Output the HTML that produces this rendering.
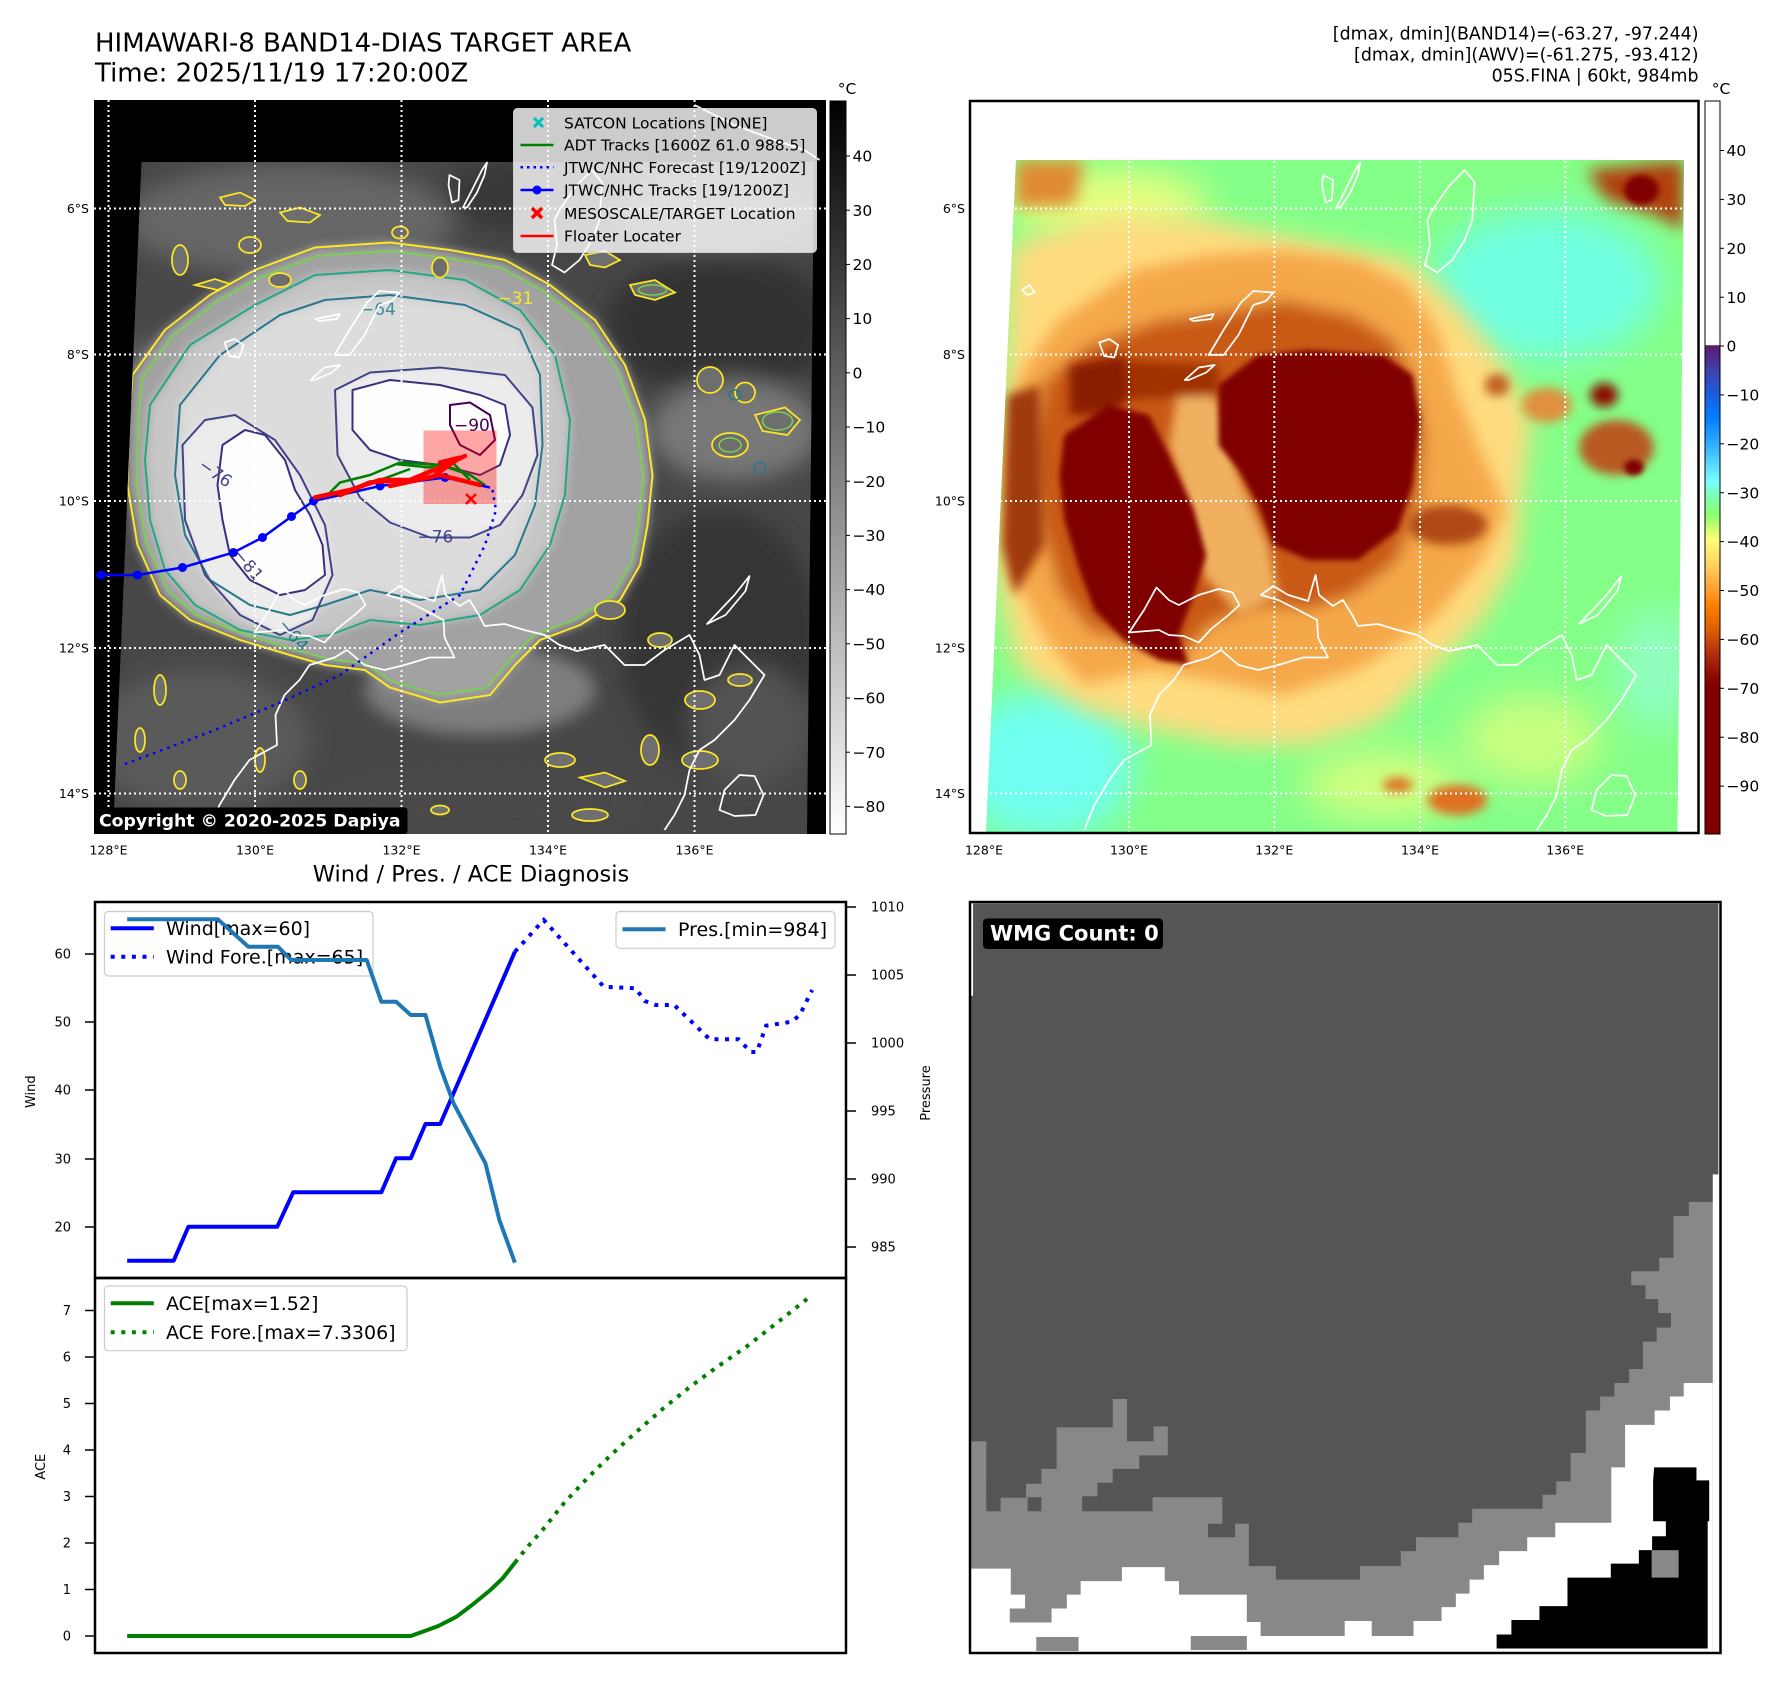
<!DOCTYPE html>
<html><head><meta charset="utf-8">
<style>
html,body{margin:0;padding:0;background:#fff;}
svg{display:block;}
text{font-family:"DejaVu Sans","Liberation Sans",sans-serif;}
</style></head><body>
<svg xmlns="http://www.w3.org/2000/svg" width="1788" height="1690" viewBox="0 0 1788 1690">
<defs>
 <filter id="bz6" x="-30%" y="-30%" width="160%" height="160%"><feGaussianBlur stdDeviation="6"/></filter>
 <filter id="bz10" x="-30%" y="-30%" width="160%" height="160%"><feGaussianBlur stdDeviation="10"/></filter>
 <filter id="bz16" x="-30%" y="-30%" width="160%" height="160%"><feGaussianBlur stdDeviation="16"/></filter>
 <filter id="bz24" x="-40%" y="-40%" width="180%" height="180%"><feGaussianBlur stdDeviation="24"/></filter>
 <filter id="bz36" x="-40%" y="-40%" width="180%" height="180%"><feGaussianBlur stdDeviation="36"/></filter>
 <clipPath id="clipLax"><rect x="94" y="100" width="732" height="734"/></clipPath>
 <clipPath id="clipLd"><polygon points="141.5,162 814,162 807,834 113,834"/></clipPath>
 <clipPath id="clipRd"><polygon points="1016,160 1684,160 1677.5,833 986,833"/></clipPath>
 <clipPath id="clipRax"><rect x="970" y="101" width="728.5" height="732"/></clipPath>
 <linearGradient id="g1" x1="0" y1="0" x2="0" y2="1">
  <stop offset="0" stop-color="#000"/><stop offset="1" stop-color="#fff"/>
 </linearGradient>
 <linearGradient id="g2" x1="0" y1="0" x2="0" y2="1">
  <stop offset="0" stop-color="#ffffff"/>
  <stop offset="0.333" stop-color="#ffffff"/>
  <stop offset="0.3334" stop-color="#5e1870"/>
  <stop offset="0.3667" stop-color="#4040a8"/>
  <stop offset="0.4" stop-color="#1a5ee0"/>
  <stop offset="0.4333" stop-color="#0080ff"/>
  <stop offset="0.4667" stop-color="#30aaff"/>
  <stop offset="0.5" stop-color="#60e0ff"/>
  <stop offset="0.52" stop-color="#78ffff"/>
  <stop offset="0.5467" stop-color="#80ff98"/>
  <stop offset="0.5667" stop-color="#90ff70"/>
  <stop offset="0.5867" stop-color="#d8ff70"/>
  <stop offset="0.6" stop-color="#ffff78"/>
  <stop offset="0.6333" stop-color="#ffd060"/>
  <stop offset="0.6667" stop-color="#ffa030"/>
  <stop offset="0.6867" stop-color="#ff8000"/>
  <stop offset="0.72" stop-color="#e06000"/>
  <stop offset="0.7533" stop-color="#b03010"/>
  <stop offset="0.7867" stop-color="#8c0800"/>
  <stop offset="0.8" stop-color="#800000"/>
  <stop offset="1" stop-color="#800000"/>
 </linearGradient>
</defs>

<!-- ================= TITLES ================= -->
<text x="95" y="51.5" font-size="26" fill="#000">HIMAWARI-8 BAND14-DIAS TARGET AREA</text>
<text x="95" y="81.5" font-size="26" fill="#000">Time: 2025/11/19 17:20:00Z</text>
<text x="1698.5" y="39.5" font-size="17.4" text-anchor="end" fill="#000">[dmax, dmin](BAND14)=(-63.27, -97.244)</text>
<text x="1698.5" y="60.5" font-size="17.4" text-anchor="end" fill="#000">[dmax, dmin](AWV)=(-61.275, -93.412)</text>
<text x="1698.5" y="81.5" font-size="17.4" text-anchor="end" fill="#000">05S.FINA | 60kt, 984mb</text>

<!-- ================= LEFT MAP ================= -->
<rect x="94" y="100" width="732" height="734" fill="#000"/>
<g clip-path="url(#clipLd)">
 <g transform="translate(90,95) scale(0.5)">
  <rect x="0" y="100" width="1500" height="1420" fill="#474747"/>
  <g filter="url(#bz24)">
   <ellipse cx="400" cy="250" rx="330" ry="110" fill="#666"/>
   <ellipse cx="940" cy="200" rx="240" ry="80" fill="#383838"/>
   <ellipse cx="1250" cy="230" rx="200" ry="90" fill="#5a5a5a"/>
   <ellipse cx="1260" cy="460" rx="230" ry="140" fill="#323232"/>
   <ellipse cx="1290" cy="670" rx="170" ry="100" fill="#787878"/>
   <ellipse cx="1260" cy="1090" rx="200" ry="260" fill="#363636"/>
   <ellipse cx="1320" cy="1260" rx="120" ry="120" fill="#525252"/>
   <ellipse cx="220" cy="1290" rx="220" ry="140" fill="#5a5a5a"/>
   <ellipse cx="780" cy="1420" rx="320" ry="70" fill="#4a4a4a"/>
   <ellipse cx="120" cy="650" rx="80" ry="160" fill="#666"/>
  </g>
  <g filter="url(#bz16)">
   <ellipse cx="780" cy="1190" rx="230" ry="90" fill="#7e7e7e"/>
  </g>
  <g filter="url(#bz10)">
   <polygon fill="#a2a2a2" points="85,560 150,470 240,400 330,350 450,305 600,295 720,310 830,330 920,380 1010,450 1070,540 1110,650 1125,760 1115,860 1100,940 1060,1010 980,1060 900,1090 850,1140 800,1200 700,1215 600,1185 550,1150 470,1140 400,1120 300,1090 200,1050 140,1000 95,900 75,780 78,650"/>
   <polygon fill="#c6c6c6" points="120,620 200,500 330,420 450,360 600,350 750,370 860,430 930,520 960,650 950,800 920,900 860,990 780,1040 660,1060 560,1050 480,1080 400,1090 300,1070 210,1020 150,950 120,850 110,730"/>
   <polygon fill="#dcdcdc" points="180,620 260,520 380,440 470,410 600,400 750,420 860,470 900,560 905,700 890,820 850,920 780,990 660,1010 560,990 470,1020 400,1040 320,1020 240,970 190,880 170,760"/>
  </g>
  <g filter="url(#bz6)">
   <polygon fill="#ececec" points="185,700 230,650 290,640 370,690 420,760 470,860 485,960 445,1050 380,1080 300,1040 230,960 190,850"/>
   <polygon fill="#ececec" points="490,590 560,555 700,545 830,560 885,625 895,720 865,800 820,860 760,885 680,885 600,855 540,805 495,720"/>
  </g>
  <polygon fill="#fdfdfd" points="265,700 310,670 350,680 390,730 410,790 440,840 465,900 470,960 430,990 380,1000 320,970 280,920 265,850 255,780"/>
  <polygon fill="#fdfdfd" points="525,590 600,570 700,580 780,600 830,620 840,680 820,740 780,760 700,740 620,730 560,710 525,670"/>
  <!-- contours -->
  <g fill="none" stroke-width="4" stroke-linejoin="round">
   <polygon stroke="#fde725" points="85,560 150,470 240,400 330,350 450,305 600,295 720,310 830,330 920,380 1010,450 1070,540 1110,650 1125,760 1115,860 1100,940 1060,1010 980,1060 900,1090 850,1140 800,1200 700,1215 600,1185 550,1150 470,1140 400,1120 300,1090 200,1050 140,1000 95,900 75,780 78,650"/>
   <polygon stroke="#7ad151" transform="translate(600,780) scale(0.965) translate(-600,-780)" points="85,560 150,470 240,400 330,350 450,305 600,295 720,310 830,330 920,380 1010,450 1070,540 1110,650 1125,760 1115,860 1100,940 1060,1010 980,1060 900,1090 850,1140 800,1200 700,1215 600,1185 550,1150 470,1140 400,1120 300,1090 200,1050 140,1000 95,900 75,780 78,650"/>
   <polygon stroke="#22a884" points="120,620 200,500 330,420 450,360 600,350 750,370 860,430 930,520 960,650 950,800 920,900 860,990 780,1040 660,1060 560,1050 480,1080 400,1090 300,1070 210,1020 150,950 120,850 110,730"/>
   <polygon stroke="#2a788e" points="180,620 260,520 380,440 470,410 600,400 750,420 860,470 900,560 905,700 890,820 850,920 780,990 660,1010 560,990 470,1020 400,1040 320,1020 240,970 190,880 170,760"/>
   <polygon stroke="#414487" points="185,700 230,650 290,640 370,690 420,760 470,860 485,960 445,1050 380,1080 300,1040 230,960 190,850"/>
   <polygon stroke="#414487" points="490,590 560,555 700,545 830,560 885,625 895,720 865,800 820,860 760,885 680,885 600,855 540,805 495,720"/>
   <polygon stroke="#3b2f7e" points="265,700 310,670 350,680 390,730 410,790 440,840 465,900 470,960 430,990 380,1000 320,970 280,920 265,850 255,780"/>
   <polygon stroke="#3b2f7e" points="525,590 600,570 700,580 780,600 830,620 840,680 820,740 780,760 700,740 620,730 560,710 525,670"/>
   <path stroke="#440154" d="M720,620 L760,615 L800,640 L810,690 L780,720 L740,700 L720,660 Z"/>
  </g>
  <!-- scattered small contour loops -->
  <g fill="#6e6e6e" stroke="#fde725" stroke-width="3.5">
   <path d="M260,205 L300,195 L330,210 L310,222 L270,220 Z"/>
   <path d="M380,235 L420,225 L460,240 L440,255 L395,252 Z"/>
   <ellipse cx="320" cy="300" rx="22" ry="16"/>
   <ellipse cx="180" cy="330" rx="16" ry="30"/>
   <path d="M210,380 L250,368 L280,378 L255,390 Z"/>
   <ellipse cx="380" cy="370" rx="22" ry="14"/>
   <ellipse cx="620" cy="275" rx="16" ry="12"/>
   <ellipse cx="700" cy="345" rx="16" ry="20"/>
   <path d="M990,320 L1030,312 L1060,330 L1030,345 L1000,340 Z"/>
   <path d="M1080,380 L1130,370 L1170,395 L1130,410 L1090,400 Z"/>
   <ellipse cx="1240" cy="570" rx="26" ry="26"/>
   <ellipse cx="1310" cy="595" rx="20" ry="20"/>
   <path d="M1330,640 L1390,625 L1420,650 L1395,680 L1345,672 Z"/>
   <ellipse cx="1280" cy="700" rx="36" ry="24"/>
   <ellipse cx="1040" cy="1030" rx="30" ry="18"/>
   <ellipse cx="1140" cy="1090" rx="24" ry="14"/>
   <ellipse cx="1220" cy="1210" rx="30" ry="18"/>
   <ellipse cx="1300" cy="1170" rx="24" ry="12"/>
   <ellipse cx="1220" cy="1330" rx="36" ry="18"/>
   <path d="M980,1365 L1030,1355 L1070,1372 L1030,1385 Z"/>
   <ellipse cx="940" cy="1330" rx="30" ry="14"/>
   <ellipse cx="1120" cy="1310" rx="18" ry="30"/>
   <ellipse cx="140" cy="1190" rx="12" ry="30"/>
   <ellipse cx="100" cy="1290" rx="10" ry="24"/>
   <ellipse cx="180" cy="1370" rx="12" ry="18"/>
   <ellipse cx="340" cy="1330" rx="10" ry="24"/>
   <ellipse cx="420" cy="1370" rx="12" ry="18"/>
   <ellipse cx="1000" cy="1440" rx="36" ry="12"/>
   <ellipse cx="700" cy="1430" rx="18" ry="9"/>
  </g>
  <g fill="none" stroke="#7ad151" stroke-width="3">
   <ellipse cx="1375" cy="652" rx="30" ry="18"/>
   <ellipse cx="1280" cy="700" rx="22" ry="14"/>
   <ellipse cx="1125" cy="390" rx="28" ry="10"/>
  </g>
  <g fill="none" stroke="#2a788e" stroke-width="3">
   <ellipse cx="1290" cy="600" rx="12" ry="10"/>
   <ellipse cx="1340" cy="745" rx="12" ry="10"/>
  </g>
  <g font-size="34">
   <text x="540" y="440" fill="#3b8ea0">−64</text>
   <text x="815" y="418" fill="#fde725">−31</text>
   <text x="655" y="895" fill="#414487">−76</text>
   <text x="728" y="672" fill="#440154">−90</text>
   <text x="215" y="745" fill="#414487" transform="rotate(35 215 745)">−76</text>
   <text x="285" y="920" fill="#414487" transform="rotate(50 285 920)">−81</text>
   <text x="375" y="1060" fill="#2a788e" transform="rotate(50 375 1060)">−64</text>
  </g>
 </g>
</g>
<!-- left coastlines -->
<g clip-path="url(#clipLax)">
 <g transform="translate(84.5,95) scale(0.5)" fill="none" stroke="#fff" stroke-width="3.5" stroke-linejoin="round">
  <path d="M730,160 L750,170 L748,210 L735,215 L728,180 Z"/>
  <path d="M757,225 L775,190 L795,150 L805,135 L800,160 L785,195 L765,225 Z"/>
  <path d="M950,230 L985,180 L1015,150 L1035,175 L1030,250 L1015,290 L990,330 L960,355 L935,340 L945,300 L940,250 Z"/>
  <path d="M500,520 L530,470 L565,415 L590,392 L630,395 L615,412 L590,420 L560,480 L530,520 Z"/>
  <path d="M462,448 L510,438 L505,448 L470,452 Z"/>
  <path d="M452,570 L480,545 L512,540 L495,555 L460,570 Z"/>
  <path d="M280,495 L300,488 L318,500 L310,525 L290,522 Z"/>
  <path d="M340,1075 L370,1030 L395,985 L420,1010 L440,1020 L480,1000 L520,988 L548,995 L562,1020 L540,1040 L505,1068 L480,1095 L450,1082 L420,1080 L400,1070 Z"/>
  <path d="M450,1140 L500,1125 L525,1110 L560,1140 L600,1150 L640,1140 L690,1125 L740,1125 L720,1085 L718,1050 L680,1030 L640,1010 L605,1000 L630,982 L660,1000 L700,1012 L715,960 L722,1000 L750,1022 L770,1010 L790,1042 L800,1062 L840,1058 L880,1070 L920,1080 L950,1100 L985,1112 L1040,1100 L1080,1140 L1120,1140 L1160,1110 L1210,1080 L1230,1120 L1240,1170 L1270,1160 L1300,1100 L1330,1130 L1360,1160 L1330,1210 L1300,1250 L1260,1290 L1230,1310 L1210,1350 L1200,1400 L1180,1440 L1160,1470"/>
  <path d="M450,1140 L430,1170 L400,1200 L382,1240 L385,1300 L330,1330 L300,1370 L270,1420 L250,1470"/>
  <path d="M1245,1058 L1300,1000 L1330,962 L1322,992 L1282,1040 Z"/>
  <path d="M1270,1430 L1280,1390 L1310,1360 L1340,1362 L1358,1400 L1342,1440 L1300,1442 Z"/>
  <path d="M1220,20 L1300,60 L1380,90 L1440,110 L1470,130"/>
 </g>
</g>
<!-- left gridlines -->
<g stroke="#fff" stroke-width="2" stroke-dasharray="2 3" fill="none">
 <line x1="108.5" y1="100" x2="108.5" y2="834"/>
 <line x1="255" y1="100" x2="255" y2="834"/>
 <line x1="401.5" y1="100" x2="401.5" y2="834"/>
 <line x1="548" y1="100" x2="548" y2="834"/>
 <line x1="694.5" y1="100" x2="694.5" y2="834"/>
 <line x1="94" y1="208.5" x2="826" y2="208.5"/>
 <line x1="94" y1="354.5" x2="826" y2="354.5"/>
 <line x1="94" y1="501" x2="826" y2="501"/>
 <line x1="94" y1="648" x2="826" y2="648"/>
 <line x1="94" y1="793.5" x2="826" y2="793.5"/>
</g>
<!-- tracks -->
<g clip-path="url(#clipLax)">
 <g transform="translate(90,95) scale(0.5)">
  <rect x="667" y="671" width="146" height="147" fill="#ff0000" fill-opacity="0.35"/>
  <polyline fill="none" stroke="#0000ff" stroke-width="5" stroke-dasharray="5 10" points="805,790 812,830 790,900 740,1000 620,1075 500,1160 380,1215 250,1270 70,1338"/>
  <g fill="none" stroke="#008000" stroke-width="5">
   <polyline points="470,805 500,775 560,760 620,735 700,740 760,760 790,780"/>
   <polyline points="610,738 680,745 720,730 760,770"/>
   <polyline points="520,790 580,770 640,748"/>
  </g>
  <polyline fill="none" stroke="#0000ff" stroke-width="5" points="22,960 95,960 185,945 287,915 345,885 403,843 447,812 580,782 710,765 800,785"/>
  <g fill="#0000ff">
   <circle cx="22" cy="960" r="9"/><circle cx="95" cy="960" r="9"/><circle cx="185" cy="945" r="9"/>
   <circle cx="287" cy="915" r="9"/><circle cx="345" cy="885" r="9"/><circle cx="403" cy="843" r="9"/>
   <circle cx="447" cy="812" r="9"/><circle cx="580" cy="782" r="9"/><circle cx="710" cy="765" r="9"/>
  </g>
  <g fill="none" stroke="#ff0000" stroke-width="9" stroke-linecap="round">
   <polyline points="450,805 520,790 580,770 640,770 700,745 750,722"/>
   <polyline points="500,800 560,775 620,770"/>
   <polyline points="600,782 700,760 780,780"/>
   <polyline points="690,760 740,725 700,735"/>
  </g>
  <g stroke="#ff0000" stroke-width="5">
   <line x1="752" y1="798" x2="772" y2="818"/><line x1="772" y1="798" x2="752" y2="818"/>
  </g>
 </g>
</g>
<!-- legend -->
<rect x="513.5" y="108.5" width="303" height="144" rx="4" fill="#fff" fill-opacity="0.8" stroke="#cccccc" stroke-width="1"/>
<g stroke="#00bfbf" stroke-width="3"><line x1="534" y1="118" x2="543" y2="127"/><line x1="543" y1="118" x2="534" y2="127"/></g>
<line x1="520.5" y1="145" x2="553.5" y2="145" stroke="#008000" stroke-width="2.5"/>
<line x1="520.5" y1="167.3" x2="553.5" y2="167.3" stroke="#0000ff" stroke-width="2.5" stroke-dasharray="2.5 4"/>
<line x1="520.5" y1="190" x2="553.5" y2="190" stroke="#0000ff" stroke-width="2.5"/>
<circle cx="537" cy="190" r="4.5" fill="#0000ff"/>
<g stroke="#ff0000" stroke-width="3.5"><line x1="532" y1="208" x2="542" y2="218"/><line x1="542" y1="208" x2="532" y2="218"/></g>
<line x1="520.5" y1="236" x2="553.5" y2="236" stroke="#ff0000" stroke-width="2.5"/>
<g font-size="15.5" fill="#000">
 <text x="564" y="128.3">SATCON Locations [NONE]</text>
 <text x="564" y="150.6">ADT Tracks [1600Z 61.0 988.5]</text>
 <text x="564" y="172.9">JTWC/NHC Forecast [19/1200Z]</text>
 <text x="564" y="195.6">JTWC/NHC Tracks [19/1200Z]</text>
 <text x="564" y="218.9">MESOSCALE/TARGET Location</text>
 <text x="564" y="241.6">Floater Locater</text>
</g>
<rect x="94" y="807.5" width="313.5" height="26.5" rx="3" fill="#000"/>
<text x="99" y="826.5" font-size="17.3" font-weight="bold" fill="#fff">Copyright © 2020-2025 Dapiya</text>
<g font-size="12.5" fill="#000">
 <text x="89" y="213" text-anchor="end">6°S</text>
 <text x="89" y="359" text-anchor="end">8°S</text>
 <text x="89" y="505.5" text-anchor="end">10°S</text>
 <text x="89" y="652.5" text-anchor="end">12°S</text>
 <text x="89" y="798" text-anchor="end">14°S</text>
 <text x="108.5" y="854.5" text-anchor="middle">128°E</text>
 <text x="255" y="854.5" text-anchor="middle">130°E</text>
 <text x="401.5" y="854.5" text-anchor="middle">132°E</text>
 <text x="548" y="854.5" text-anchor="middle">134°E</text>
 <text x="694.5" y="854.5" text-anchor="middle">136°E</text>
</g>
<!-- colorbar 1 -->
<rect x="830" y="101" width="16" height="733" fill="url(#g1)" stroke="#000" stroke-width="1"/>
<text x="847" y="94" font-size="15.5" text-anchor="middle">°C</text>
<g stroke="#000" stroke-width="1">
 <line x1="846" y1="156" x2="850" y2="156"/><line x1="846" y1="210.2" x2="850" y2="210.2"/>
 <line x1="846" y1="264.4" x2="850" y2="264.4"/><line x1="846" y1="318.6" x2="850" y2="318.6"/>
 <line x1="846" y1="372.8" x2="850" y2="372.8"/><line x1="846" y1="427" x2="850" y2="427"/>
 <line x1="846" y1="481.2" x2="850" y2="481.2"/><line x1="846" y1="535.4" x2="850" y2="535.4"/>
 <line x1="846" y1="589.6" x2="850" y2="589.6"/><line x1="846" y1="643.8" x2="850" y2="643.8"/>
 <line x1="846" y1="698" x2="850" y2="698"/><line x1="846" y1="752.2" x2="850" y2="752.2"/>
 <line x1="846" y1="806.4" x2="850" y2="806.4"/>
</g>
<g font-size="15.5" fill="#000">
 <text x="852.5" y="161.6">40</text><text x="852.5" y="215.8">30</text><text x="852.5" y="270">20</text>
 <text x="852.5" y="324.2">10</text><text x="852.5" y="378.4">0</text><text x="852.5" y="432.6">−10</text>
 <text x="852.5" y="486.8">−20</text><text x="852.5" y="541">−30</text><text x="852.5" y="595.2">−40</text>
 <text x="852.5" y="649.4">−50</text><text x="852.5" y="703.6">−60</text><text x="852.5" y="757.8">−70</text>
 <text x="852.5" y="812">−80</text>
</g>

<!-- ================= RIGHT MAP ================= -->
<rect x="970" y="101" width="728.5" height="732" fill="#fff"/>
<g clip-path="url(#clipRd)">
 <g transform="translate(960,95) scale(0.4973,0.5)">
  <rect x="0" y="100" width="1500" height="1420" fill="#84ff88"/>
  <g filter="url(#bz36)">
   <ellipse cx="1180" cy="380" rx="230" ry="150" fill="#70ffe0"/>
   <ellipse cx="170" cy="1340" rx="180" ry="150" fill="#70fff0"/>
   <ellipse cx="1400" cy="1150" rx="80" ry="120" fill="#90ffc0"/>
   <ellipse cx="1150" cy="1290" rx="140" ry="90" fill="#c8ff80"/>
   <ellipse cx="850" cy="1380" rx="160" ry="70" fill="#d0ff80"/>
   <ellipse cx="300" cy="220" rx="200" ry="70" fill="#e8ff80"/>
  </g>
  <g filter="url(#bz24)">
   <polygon fill="#ffdc80" points="100,300 300,240 500,250 700,290 900,330 1000,420 1080,520 1150,640 1130,800 1120,930 1050,1050 950,1150 850,1250 700,1300 550,1300 400,1270 250,1230 120,1150 80,1000 70,800 90,600"/>
  </g>
  <g filter="url(#bz16)">
   <polygon fill="#f5a848" points="120,560 200,450 350,350 500,320 650,310 800,330 900,380 960,470 1000,600 1050,720 1100,830 1050,930 950,1050 800,1150 650,1200 500,1170 380,1150 250,1180 180,1100 100,950 90,750"/>
   <polygon fill="#c85a18" points="170,570 260,500 400,450 550,430 650,410 790,440 870,490 910,560 935,680 925,810 880,930 790,1000 700,1030 600,1020 500,1060 450,1120 360,1100 260,1070 200,990 160,850 145,700"/>
   <polygon fill="#e08a30" points="112,130 250,130 230,220 112,225"/>
   <polygon fill="#b04010" points="1260,150 1455,130 1455,270 1400,240 1300,210"/>
  </g>
  <g filter="url(#bz10)">
   <polygon fill="#f0b060" points="440,580 520,610 560,760 620,900 640,1000 560,1040 490,960 460,820 420,700"/>
   <polygon fill="#8a1a00" points="220,540 330,520 350,600 300,640 220,640"/>
   <polygon fill="#a03000" points="330,530 520,540 520,600 340,610"/>
   <polygon fill="#a03a08" points="95,600 160,580 170,900 110,1000 85,900"/>
   <ellipse cx="1295" cy="600" rx="28" ry="24" fill="#8a1000"/>
   <ellipse cx="1320" cy="705" rx="75" ry="55" fill="#b85a20"/>
   <ellipse cx="1080" cy="580" rx="25" ry="22" fill="#c06020"/>
   <ellipse cx="1180" cy="620" rx="50" ry="35" fill="#e09040"/>
   <ellipse cx="1000" cy="1410" rx="60" ry="30" fill="#e07020"/>
   <ellipse cx="880" cy="1380" rx="30" ry="15" fill="#e07020"/>
   <ellipse cx="980" cy="860" rx="80" ry="40" fill="#b04a18"/>
  </g>
  <g filter="url(#bz6)">
   <polygon fill="#800000" points="520,580 600,520 700,510 850,520 910,560 925,650 910,780 880,870 800,930 700,930 630,900 600,820 560,750 520,700"/>
   <polygon fill="#800000" points="210,680 300,620 380,640 420,720 470,830 495,920 470,1000 440,1080 460,1140 400,1130 330,1090 270,1030 240,950 210,850 200,760"/>
   <ellipse cx="1370" cy="190" rx="35" ry="30" fill="#800000"/>
   <ellipse cx="1355" cy="745" rx="20" ry="16" fill="#800000"/>
  </g>
 </g>
</g>
<!-- right coastlines -->
<g clip-path="url(#clipRax)">
 <g transform="translate(960,95) scale(0.4973,0.5)" fill="none" stroke="#fff" stroke-width="3.5" stroke-linejoin="round">
  <path d="M730,160 L750,170 L748,210 L735,215 L728,180 Z"/>
  <path d="M757,225 L775,190 L795,150 L805,135 L800,160 L785,195 L765,225 Z"/>
  <path d="M950,230 L985,180 L1015,150 L1035,175 L1030,250 L1015,290 L990,330 L960,355 L935,340 L945,300 L940,250 Z"/>
  <path d="M500,520 L530,470 L565,415 L590,392 L630,395 L615,412 L590,420 L560,480 L530,520 Z"/>
  <path d="M462,448 L510,438 L505,448 L470,452 Z"/>
  <path d="M452,570 L480,545 L512,540 L495,555 L460,570 Z"/>
  <path d="M280,495 L300,488 L318,500 L310,525 L290,522 Z"/>
  <path d="M125,390 L140,380 L150,395 L135,400 Z"/>
  <path d="M340,1075 L370,1030 L395,985 L420,1010 L440,1020 L480,1000 L520,988 L548,995 L562,1020 L540,1040 L505,1068 L480,1095 L450,1082 L420,1080 L400,1070 Z"/>
  <path d="M450,1140 L500,1125 L525,1110 L560,1140 L600,1150 L640,1140 L690,1125 L740,1125 L720,1085 L718,1050 L680,1030 L640,1010 L605,1000 L630,982 L660,1000 L700,1012 L715,960 L722,1000 L750,1022 L770,1010 L790,1042 L800,1062 L840,1058 L880,1070 L920,1080 L950,1100 L985,1112 L1040,1100 L1080,1140 L1120,1140 L1160,1110 L1210,1080 L1230,1120 L1240,1170 L1270,1160 L1300,1100 L1330,1130 L1360,1160 L1330,1210 L1300,1250 L1260,1290 L1230,1310 L1210,1350 L1200,1400 L1180,1440 L1160,1470"/>
  <path d="M450,1140 L430,1170 L400,1200 L382,1240 L385,1300 L330,1330 L300,1370 L270,1420 L250,1470"/>
  <path d="M1245,1058 L1300,1000 L1330,962 L1322,992 L1282,1040 Z"/>
  <path d="M1270,1430 L1280,1390 L1310,1360 L1340,1362 L1358,1400 L1342,1440 L1300,1442 Z"/>
 </g>
</g>
<!-- right gridlines -->
<g stroke="#fff" stroke-width="2" stroke-dasharray="2 3" fill="none" clip-path="url(#clipRd)">
 <line x1="1129" y1="101" x2="1129" y2="833"/>
 <line x1="1274.3" y1="101" x2="1274.3" y2="833"/>
 <line x1="1420" y1="101" x2="1420" y2="833"/>
 <line x1="1565.2" y1="101" x2="1565.2" y2="833"/>
 <line x1="970" y1="208.5" x2="1698" y2="208.5"/>
 <line x1="970" y1="354.5" x2="1698" y2="354.5"/>
 <line x1="970" y1="501" x2="1698" y2="501"/>
 <line x1="970" y1="648" x2="1698" y2="648"/>
 <line x1="970" y1="793.5" x2="1698" y2="793.5"/>
</g>
<rect x="970" y="101" width="728.5" height="732" fill="none" stroke="#000" stroke-width="2.5"/>
<g font-size="12.5" fill="#000">
 <text x="965" y="213" text-anchor="end">6°S</text>
 <text x="965" y="359" text-anchor="end">8°S</text>
 <text x="965" y="505.5" text-anchor="end">10°S</text>
 <text x="965" y="652.5" text-anchor="end">12°S</text>
 <text x="965" y="798" text-anchor="end">14°S</text>
 <text x="984" y="854.5" text-anchor="middle">128°E</text>
 <text x="1129" y="854.5" text-anchor="middle">130°E</text>
 <text x="1274.3" y="854.5" text-anchor="middle">132°E</text>
 <text x="1420" y="854.5" text-anchor="middle">134°E</text>
 <text x="1565.2" y="854.5" text-anchor="middle">136°E</text>
</g>
<!-- colorbar 2 -->
<rect x="1705" y="101" width="15" height="733" fill="url(#g2)" stroke="#000" stroke-width="1"/>
<text x="1721" y="94" font-size="15.5" text-anchor="middle">°C</text>
<g stroke="#000" stroke-width="1">
 <line x1="1720" y1="150.5" x2="1724" y2="150.5"/><line x1="1720" y1="199.4" x2="1724" y2="199.4"/>
 <line x1="1720" y1="248.3" x2="1724" y2="248.3"/><line x1="1720" y1="297.2" x2="1724" y2="297.2"/>
 <line x1="1720" y1="346" x2="1724" y2="346"/><line x1="1720" y1="394.9" x2="1724" y2="394.9"/>
 <line x1="1720" y1="443.8" x2="1724" y2="443.8"/><line x1="1720" y1="492.7" x2="1724" y2="492.7"/>
 <line x1="1720" y1="541.6" x2="1724" y2="541.6"/><line x1="1720" y1="590.5" x2="1724" y2="590.5"/>
 <line x1="1720" y1="639.4" x2="1724" y2="639.4"/><line x1="1720" y1="688.3" x2="1724" y2="688.3"/>
 <line x1="1720" y1="737.2" x2="1724" y2="737.2"/><line x1="1720" y1="786.1" x2="1724" y2="786.1"/>
</g>
<g font-size="15.5" fill="#000">
 <text x="1726.5" y="156.1">40</text><text x="1726.5" y="205">30</text><text x="1726.5" y="253.9">20</text>
 <text x="1726.5" y="302.8">10</text><text x="1726.5" y="351.6">0</text><text x="1726.5" y="400.5">−10</text>
 <text x="1726.5" y="449.4">−20</text><text x="1726.5" y="498.3">−30</text><text x="1726.5" y="547.2">−40</text>
 <text x="1726.5" y="596.1">−50</text><text x="1726.5" y="645">−60</text><text x="1726.5" y="693.9">−70</text>
 <text x="1726.5" y="742.8">−80</text><text x="1726.5" y="791.7">−90</text>
</g>

<!-- ================= WIND / PRES PANEL ================= -->
<text x="471" y="881.5" font-size="22.5" text-anchor="middle" fill="#000">Wind / Pres. / ACE Diagnosis</text>
<rect x="95" y="902" width="751" height="376" fill="#fff"/>
<g transform="translate(95,0) scale(0.996,1) translate(-95,0)">
<polyline fill="none" stroke="#0000ff" stroke-width="4" stroke-linejoin="round" points="127.3,1260.7 174,1260.7 188.8,1226.7 278,1226.7 294,1192.3 382.5,1192.3 397.3,1158.3 412,1158.3 426.8,1124 441.6,1124 516.6,951.7"/>
<polyline fill="none" stroke="#0000ff" stroke-width="4" stroke-dasharray="4 6.6" points="516.6,951.7 545.5,920 605.8,986.7 637.8,988.3 647,1001 658,1005 676.5,1005 712.2,1039.3 741.1,1039.3 753.4,1052 759.5,1052 768.8,1025.7 794.6,1021.7 802.6,1015 815,990"/>
</g>
<rect x="104.5" y="911.5" width="268.5" height="64.5" rx="4" fill="#fff" fill-opacity="0.8" stroke="#cccccc" stroke-width="1.2"/>
<line x1="110.7" y1="928.3" x2="153.8" y2="928.3" stroke="#0000ff" stroke-width="4"/>
<line x1="110.7" y1="956.7" x2="153.8" y2="956.7" stroke="#0000ff" stroke-width="4" stroke-dasharray="4 6.6"/>
<text x="166" y="935" font-size="19" fill="#000">Wind[max=60]</text>
<text x="166" y="963.5" font-size="19" fill="#000">Wind Fore.[max=65]</text>
<g transform="translate(95,0) scale(0.996,1) translate(-95,0)">
<polyline fill="none" stroke="#1f77b4" stroke-width="4" stroke-linejoin="round" points="127.3,919.3 218.3,919.3 249,946.7 278.6,946.7 292,960 367.8,960 382.5,1001.7 397.3,1001.7 412,1015 426.8,1015 441.6,1066.7 455,1103.3 487,1163.3 501,1220 516.6,1262.7"/>
</g>
<rect x="616" y="911.5" width="219" height="36.8" rx="4" fill="#fff" fill-opacity="0.8" stroke="#cccccc" stroke-width="1.2"/>
<line x1="622.5" y1="929.3" x2="665.5" y2="929.3" stroke="#1f77b4" stroke-width="4"/>
<text x="678" y="936" font-size="19" fill="#000">Pres.[min=984]</text>
<rect x="95" y="902" width="751" height="376" fill="none" stroke="#000" stroke-width="2.5"/>
<g stroke="#000" stroke-width="1.5">
 <line x1="85" y1="954" x2="95" y2="954"/><line x1="85" y1="1022" x2="95" y2="1022"/>
 <line x1="85" y1="1090" x2="95" y2="1090"/><line x1="85" y1="1159" x2="95" y2="1159"/>
 <line x1="85" y1="1227" x2="95" y2="1227"/>
 <line x1="846" y1="907" x2="856" y2="907"/><line x1="846" y1="975" x2="856" y2="975"/>
 <line x1="846" y1="1043" x2="856" y2="1043"/><line x1="846" y1="1111" x2="856" y2="1111"/>
 <line x1="846" y1="1179" x2="856" y2="1179"/><line x1="846" y1="1247" x2="856" y2="1247"/>
</g>
<g font-size="13" fill="#000">
 <text x="71" y="958.7" text-anchor="end">60</text>
 <text x="71" y="1026.7" text-anchor="end">50</text>
 <text x="71" y="1094.7" text-anchor="end">40</text>
 <text x="71" y="1163.7" text-anchor="end">30</text>
 <text x="71" y="1231.7" text-anchor="end">20</text>
 <text x="871" y="911.7">1010</text>
 <text x="871" y="979.7">1005</text>
 <text x="871" y="1047.7">1000</text>
 <text x="871" y="1115.7">995</text>
 <text x="871" y="1183.7">990</text>
 <text x="871" y="1251.7">985</text>
</g>
<text x="35" y="1091.7" font-size="13" text-anchor="middle" transform="rotate(-90 35 1091.7)" fill="#000">Wind</text>
<text x="930" y="1093" font-size="13" text-anchor="middle" transform="rotate(-90 930 1093)" fill="#000">Pressure</text>

<!-- ================= ACE PANEL ================= -->
<g transform="translate(95,0) scale(0.996,1) translate(-95,0)">
<polyline fill="none" stroke="#008000" stroke-width="4" stroke-linejoin="round" points="127.3,1636 412,1636 426,1631 439.7,1626 458,1616.7 473.6,1605 492,1590 504.3,1578.3 516.6,1562.7"/>
<polyline fill="none" stroke="#008000" stroke-width="4" stroke-dasharray="4 6.6" points="516.6,1562.7 530,1546 544.3,1530 566,1503 589.2,1478.3 614,1454 639.6,1431 666,1408 693.1,1386.3 721,1366 749,1346.7 782,1321 815,1295"/>
</g>
<rect x="104.5" y="1286" width="302.5" height="64.7" rx="4" fill="#fff" fill-opacity="0.8" stroke="#cccccc" stroke-width="1.2"/>
<line x1="110.7" y1="1303.3" x2="153.8" y2="1303.3" stroke="#008000" stroke-width="4"/>
<line x1="110.7" y1="1332.3" x2="153.8" y2="1332.3" stroke="#008000" stroke-width="4" stroke-dasharray="4 6.6"/>
<text x="166" y="1310" font-size="19" fill="#000">ACE[max=1.52]</text>
<text x="166" y="1339" font-size="19" fill="#000">ACE Fore.[max=7.3306]</text>
<rect x="95" y="1278" width="751" height="375" fill="none" stroke="#000" stroke-width="2.5"/>
<g stroke="#000" stroke-width="1.5">
 <line x1="85" y1="1636" x2="95" y2="1636"/><line x1="85" y1="1589.5" x2="95" y2="1589.5"/>
 <line x1="85" y1="1543" x2="95" y2="1543"/><line x1="85" y1="1496.5" x2="95" y2="1496.5"/>
 <line x1="85" y1="1450" x2="95" y2="1450"/><line x1="85" y1="1403.5" x2="95" y2="1403.5"/>
 <line x1="85" y1="1357" x2="95" y2="1357"/><line x1="85" y1="1310.5" x2="95" y2="1310.5"/>
</g>
<g font-size="13" fill="#000">
 <text x="71" y="1640.7" text-anchor="end">0</text>
 <text x="71" y="1594.2" text-anchor="end">1</text>
 <text x="71" y="1547.7" text-anchor="end">2</text>
 <text x="71" y="1501.2" text-anchor="end">3</text>
 <text x="71" y="1454.7" text-anchor="end">4</text>
 <text x="71" y="1408.2" text-anchor="end">5</text>
 <text x="71" y="1361.7" text-anchor="end">6</text>
 <text x="71" y="1315.2" text-anchor="end">7</text>
</g>
<text x="45" y="1466.7" font-size="13" text-anchor="middle" transform="rotate(-90 45 1466.7)" fill="#000">ACE</text>

<!-- ================= WMG PANEL ================= -->
<g transform="translate(959.8,890) scale(0.5098,0.499)">
 <rect x="22" y="27" width="1466" height="1503" fill="#555555"/>
 <rect x="22" y="27" width="4" height="185" fill="#fff"/>
 <polygon fill="#888888" points="22,1105 52,1105 52,1245 80,1245 80,1218 130,1218 130,1190 160,1190 160,1160 190,1160 190,1077 300,1077 300,1020 328,1020 328,1105 380,1105 380,1075 408,1075 408,1133 352,1133 352,1160 300,1160 300,1188 270,1188 270,1215 240,1215 240,1245 378,1245 378,1217 515,1217 515,1270 567,1270 567,1355 620,1355 620,1382 785,1382 785,1355 865,1355 865,1325 895,1325 895,1297 978,1297 978,1268 1005,1268 1005,1240 1143,1240 1143,1212 1170,1212 1170,1185 1198,1185 1198,1128 1228,1128 1228,1043 1256,1043 1256,1015 1284,1015 1284,988 1313,988 1313,960 1340,960 1340,905 1367,905 1367,877 1395,877 1395,848 1370,848 1370,820 1345,820 1345,792 1317,792 1317,764 1372,764 1372,737 1400,737 1400,653 1430,653 1430,625 1487,625 1487,1530 22,1530"/>
 <polygon fill="#555555" points="52,1190 80,1190 80,1218 52,1218"/>
 <polygon fill="#555555" points="487,1270 540,1270 540,1297 487,1297"/>
 <polygon fill="#555555" points="133,1217 160,1217 160,1245 133,1245"/>
 <polygon fill="#ffffff" points="22,1360 100,1360 100,1412 128,1412 128,1440 98,1440 98,1468 180,1468 180,1440 210,1440 210,1412 237,1412 237,1385 318,1385 318,1357 402,1357 402,1385 430,1385 430,1412 563,1412 563,1467 590,1467 590,1495 755,1495 755,1465 808,1465 808,1495 890,1495 890,1465 945,1465 945,1437 973,1437 973,1410 1000,1410 1000,1382 1028,1382 1028,1353 1058,1353 1058,1325 1113,1325 1113,1297 1168,1297 1168,1268 1278,1268 1278,1157 1305,1157 1305,1072 1363,1072 1363,1043 1393,1043 1393,1015 1420,1015 1420,988 1477,988 1477,1530 22,1530"/>
 <rect x="1477" y="570" width="13" height="960" fill="#fff"/>
 <rect x="150" y="1497" width="83" height="28" fill="#888888"/>
 <rect x="453" y="1495" width="110" height="28" fill="#888888"/>
 <polygon fill="#000000" points="1053,1520 1053,1492 1082,1492 1082,1463 1137,1463 1137,1435 1192,1435 1192,1378 1277,1378 1277,1350 1332,1350 1332,1323 1358,1323 1358,1295 1385,1295 1385,1265 1360,1265 1360,1183 1362,1157 1445,1157 1445,1183 1470,1183 1470,1265 1467,1265 1467,1520"/>
 <rect x="1357" y="1323" width="53" height="55" fill="#888888"/>
</g>
<rect x="970" y="902" width="750.5" height="751" fill="none" stroke="#000" stroke-width="2.5"/>
<rect x="983" y="918.5" width="180" height="30.5" rx="4" fill="#000"/>
<text x="990" y="940.5" font-size="21" font-weight="bold" fill="#fff">WMG Count: 0</text>
</svg>
</body></html>
